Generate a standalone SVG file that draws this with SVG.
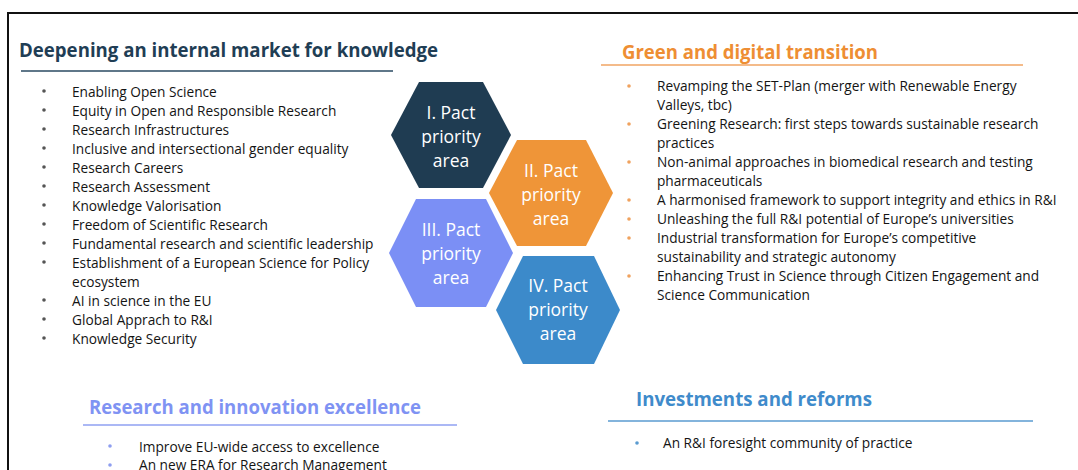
<svg xmlns="http://www.w3.org/2000/svg" width="1078" height="470" viewBox="0 0 1078 470">
<style>
.li{font-family:"Open Sans","Liberation Sans",sans-serif;font-size:13.7px;fill:#141414}
.ttl{font-family:"Open Sans","Liberation Sans",sans-serif;font-size:19.5px;font-weight:700}
.hx{font-family:"Open Sans","Liberation Sans",sans-serif;font-size:17.5px;fill:#ffffff;text-anchor:middle}
.ul{stroke-width:1.6;fill:none}
</style>
<rect x="0" y="0" width="1078" height="470" fill="#ffffff"/>
<path d="M8,470 V13 H1078" fill="none" stroke="#111111" stroke-width="2"/>

<g id="section-deepening">
<text class="ttl" x="19" y="57" fill="#1F3E55" textLength="419" lengthAdjust="spacingAndGlyphs">Deepening an internal market for knowledge</text>
<line class="ul" x1="21" y1="71" x2="393" y2="71" stroke="#2A4A62" stroke-width="2"/>
<g fill="#555555">
<circle cx="44" cy="91" r="1.8"/><circle cx="44" cy="110" r="1.8"/><circle cx="44" cy="129" r="1.8"/><circle cx="44" cy="148" r="1.8"/><circle cx="44" cy="167" r="1.8"/><circle cx="44" cy="186" r="1.8"/><circle cx="44" cy="205" r="1.8"/><circle cx="44" cy="224" r="1.8"/><circle cx="44" cy="243" r="1.8"/><circle cx="44" cy="262" r="1.8"/><circle cx="44" cy="300" r="1.8"/><circle cx="44" cy="319" r="1.8"/><circle cx="44" cy="338" r="1.8"/>
</g>
<text class="li" x="72" y="96.5">Enabling Open Science</text>
<text class="li" x="72" y="115.5">Equity in Open and Responsible Research</text>
<text class="li" x="72" y="134.5">Research Infrastructures</text>
<text class="li" x="72" y="153.5">Inclusive and intersectional gender equality</text>
<text class="li" x="72" y="172.5">Research Careers</text>
<text class="li" x="72" y="191.5">Research Assessment</text>
<text class="li" x="72" y="210.5">Knowledge Valorisation</text>
<text class="li" x="72" y="229.5">Freedom of Scientific Research</text>
<text class="li" x="72" y="248.5">Fundamental research and scientific leadership</text>
<text class="li" x="72" y="267.5">Establishment of a European Science for Policy</text>
<text class="li" x="72" y="286.5">ecosystem</text>
<text class="li" x="72" y="305.5">AI in science in the EU</text>
<text class="li" x="72" y="324.5">Global Apprach to R&amp;I</text>
<text class="li" x="72" y="343.5">Knowledge Security</text>
</g>

<g id="section-green">
<text class="ttl" x="622" y="59" fill="#EE8E33" textLength="256" lengthAdjust="spacingAndGlyphs">Green and digital transition</text>
<line class="ul" x1="601" y1="65" x2="1023" y2="65" stroke="#F0A463"/>
<g fill="#F0A25E">
<circle cx="629" cy="86" r="1.8"/><circle cx="629" cy="124" r="1.8"/><circle cx="629" cy="162" r="1.8"/><circle cx="629" cy="200" r="1.8"/><circle cx="629" cy="219" r="1.8"/><circle cx="629" cy="238" r="1.8"/><circle cx="629" cy="276" r="1.8"/>
</g>
<text class="li" x="657" y="90.5">Revamping the SET-Plan (merger with Renewable Energy</text>
<text class="li" x="657" y="109.5">Valleys, tbc)</text>
<text class="li" x="657" y="128.5">Greening Research: first steps towards sustainable research</text>
<text class="li" x="657" y="147.5">practices</text>
<text class="li" x="657" y="166.5">Non-animal approaches in biomedical research and testing</text>
<text class="li" x="657" y="185.5">pharmaceuticals</text>
<text class="li" x="657" y="204.5">A harmonised framework to support integrity and ethics in R&amp;I</text>
<text class="li" x="657" y="223.5">Unleashing the full R&amp;I potential of Europe’s universities</text>
<text class="li" x="657" y="242.5">Industrial transformation for Europe’s competitive</text>
<text class="li" x="657" y="261.5">sustainability and strategic autonomy</text>
<text class="li" x="657" y="280.5">Enhancing Trust in Science through Citizen Engagement and</text>
<text class="li" x="657" y="299.5">Science Communication</text>
</g>

<g id="hex-1">
<polygon points="391,135 419,82 483,82 511,135 483,188 419,188" fill="#1F3C52"/>
<text class="hx" x="451" y="119">I. Pact</text>
<text class="hx" x="451" y="143">priority</text>
<text class="hx" x="451" y="167">area</text>
</g>
<g id="hex-2">
<polygon points="489,193 517,140 586,140 613,193 586,246 517,246" fill="#EF9538"/>
<text class="hx" x="551" y="177">II. Pact</text>
<text class="hx" x="551" y="201">priority</text>
<text class="hx" x="551" y="225">area</text>
</g>
<g id="hex-3">
<polygon points="389,253 416,199 486,199 513,253 486,307 416,307" fill="#7B8FF5"/>
<text class="hx" x="451" y="236">III. Pact</text>
<text class="hx" x="451" y="260">priority</text>
<text class="hx" x="451" y="284">area</text>
</g>
<g id="hex-4">
<polygon points="496,310 523,256 594,256 620,310 594,364 523,364" fill="#3C8ACA"/>
<text class="hx" x="558" y="292">IV. Pact</text>
<text class="hx" x="558" y="316">priority</text>
<text class="hx" x="558" y="340">area</text>
</g>

<g id="section-excellence">
<text class="ttl" x="89" y="414" fill="#7F93F3" textLength="332" lengthAdjust="spacingAndGlyphs">Research and innovation excellence</text>
<line class="ul" x1="83" y1="425" x2="457" y2="425" stroke="#8FA0F2"/>
<g fill="#8E9EF0">
<circle cx="110" cy="446" r="1.8"/><circle cx="110" cy="465" r="1.8"/>
</g>
<text class="li" x="139" y="451.5">Improve EU-wide access to excellence</text>
<text class="li" x="139" y="469.5">An new ERA for Research Management</text>
</g>

<g id="section-investments">
<text class="ttl" x="636" y="406" fill="#3F8BCB" textLength="236" lengthAdjust="spacingAndGlyphs">Investments and reforms</text>
<line class="ul" x1="608" y1="421" x2="1033" y2="421" stroke="#5A9BD0"/>
<circle cx="637" cy="443" r="1.8" fill="#5A9BD0"/>
<text class="li" x="663" y="448">An R&amp;I foresight community of practice</text>
</g>
</svg>
